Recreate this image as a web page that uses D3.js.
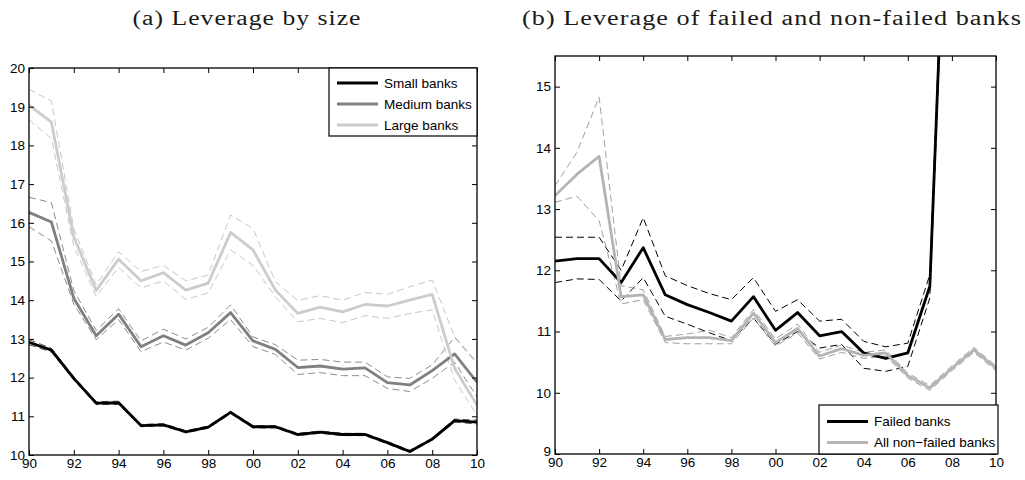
<!DOCTYPE html>
<html>
<head>
<meta charset="utf-8">
<script src="https://cdn.jsdelivr.net/npm/d3@7"></script>
<style>
  html, body { margin: 0; padding: 0; background: #fff; }
  svg { display: block; }
  .tick text { font-family: "Liberation Sans", Arial, sans-serif; font-size: 13.5px; fill: #000; }
  .title { font-family: "Liberation Serif", "Times New Roman", serif; font-size: 20px; font-weight: normal; letter-spacing: 0.8px; fill: #1a1a1a; }
  .legend text { font-family: "Liberation Sans", Arial, sans-serif; font-size: 13.5px; fill: #000; }
</style>
</head>
<body>
<svg id="chart" width="1025" height="480"></svg>
<script>
// Years on the x axis (1990–2010), labelled with two digits
const years = d3.range(1990, 2011);
const xTickYears = [1990, 1992, 1994, 1996, 1998, 2000, 2002, 2004, 2006, 2008, 2010];

// Panel (a): leverage by size, mean with dashed confidence bands
const smallBanks      = [12.91,12.71,11.98,11.34,11.35,10.76,10.78,10.60,10.72,11.10,10.73,10.73,10.53,10.59,10.53,10.53,10.32,10.09,10.41,10.89,10.85];
const smallBanksUpper = [12.98,12.76,12.02,11.38,11.39,10.79,10.81,10.63,10.75,11.13,10.76,10.76,10.56,10.62,10.56,10.56,10.35,10.12,10.44,10.93,10.90];
const smallBanksLower = [12.85,12.66,11.94,11.30,11.31,10.73,10.75,10.57,10.69,11.07,10.70,10.70,10.50,10.56,10.50,10.50,10.29,10.06,10.38,10.85,10.80];

const mediumBanks      = [16.27,16.02,14.05,13.08,13.64,12.80,13.08,12.84,13.16,13.68,12.95,12.73,12.26,12.30,12.22,12.25,11.87,11.81,12.18,12.61,11.88];
const mediumBanksUpper = [16.66,16.52,14.25,13.22,13.78,12.95,13.25,13.00,13.30,13.88,13.05,12.85,12.45,12.47,12.40,12.40,12.02,11.98,12.33,13.04,12.37];
const mediumBanksLower = [15.90,15.53,13.90,12.98,13.50,12.67,12.92,12.71,13.02,13.50,12.80,12.60,12.08,12.13,12.05,12.05,11.72,11.64,11.98,12.40,11.50];

const largeBanks      = [19.04,18.60,15.64,14.25,15.06,14.50,14.71,14.26,14.44,15.75,15.30,14.26,13.66,13.82,13.70,13.89,13.85,14.00,14.15,12.24,11.29];
const largeBanksUpper = [19.45,19.15,15.85,14.40,15.25,14.74,14.90,14.50,14.65,16.20,15.85,14.48,13.99,14.12,14.00,14.20,14.15,14.35,14.52,13.06,12.40];
const largeBanksLower = [18.66,18.18,15.40,14.10,14.85,14.32,14.50,14.02,14.19,15.30,14.90,14.09,13.44,13.53,13.42,13.60,13.53,13.66,13.75,11.94,11.03];

const yTicksA = [10,11,12,13,14,15,16,17,18,19,20];

// Panel (b): failed banks (1990–2008) and all non-failed banks (1990–2010)
const failedYears = d3.range(1990, 2009);
const failedBanks      = [12.15,12.19,12.19,11.80,12.37,11.60,11.44,11.31,11.17,11.57,11.02,11.31,10.93,11.00,10.65,10.56,10.65,11.74,21.00];
const failedBanksUpper = [12.54,12.54,12.54,12.00,12.86,11.91,11.75,11.62,11.52,11.88,11.33,11.52,11.17,11.20,10.84,10.75,10.81,11.93,21.30];
const failedBanksLower = [11.80,11.86,11.85,11.50,11.88,11.25,11.12,10.98,10.85,11.22,10.79,11.00,10.73,10.79,10.40,10.35,10.43,11.55,20.70];

const nonFailedBanks      = [13.22,13.57,13.86,11.57,11.60,10.87,10.90,10.90,10.85,11.30,10.82,11.05,10.60,10.72,10.61,10.65,10.28,10.08,10.40,10.70,10.40];
const nonFailedBanksUpper = [13.38,13.93,14.83,11.75,11.68,10.92,10.96,11.02,10.90,11.36,10.88,11.12,10.66,10.78,10.66,10.70,10.32,10.12,10.44,10.74,10.44];
const nonFailedBanksLower = [13.11,13.21,12.81,11.45,11.52,10.82,10.80,10.80,10.80,11.22,10.76,10.98,10.55,10.66,10.56,10.60,10.24,10.04,10.36,10.66,10.36];

const yTicksB = [9,10,11,12,13,14,15];

const svg = d3.select("#chart");

function drawPanel(cfg) {
  const x = d3.scaleLinear().domain([1990, 2010]).range([cfg.left, cfg.right]);
  const y = d3.scaleLinear().domain(cfg.yDomain).range([cfg.bottom, cfg.top]);
  const g = svg.append("g");

  const clipId = cfg.id + "-clip";
  svg.append("defs").append("clipPath").attr("id", clipId)
    .append("rect")
    .attr("x", cfg.left).attr("y", cfg.top)
    .attr("width", cfg.right - cfg.left).attr("height", cfg.bottom - cfg.top);

  const plot = g.append("g").attr("clip-path", `url(#${clipId})`);

  // dashed confidence bands first, solid means on top
  cfg.series.forEach(s => {
    const line = d3.line().x((d, i) => x(s.years[i])).y(d => y(d));
    [s.upper, s.lower].forEach(band => {
      plot.append("path").datum(band)
        .attr("d", line)
        .attr("fill", "none")
        .attr("stroke", s.bandColor)
        .attr("stroke-width", 1)
        .attr("stroke-dasharray", "7,4");
    });
  });
  cfg.series.forEach(s => {
    const line = d3.line().x((d, i) => x(s.years[i])).y(d => y(d));
    plot.append("path").datum(s.values)
      .attr("d", line)
      .attr("fill", "none")
      .attr("stroke", s.color)
      .attr("stroke-width", 2.8)
      .attr("stroke-linejoin", "round");
  });

  // axes: ticks point inward on all four sides
  const fmtYear = d => String(d % 100).padStart(2, "0");
  g.append("g").attr("transform", `translate(0,${cfg.bottom})`)
    .call(d3.axisBottom(x).tickValues(xTickYears).tickFormat(fmtYear).tickSize(-5).tickPadding(3))
    .call(a => a.select(".domain").remove());
  g.append("g").attr("transform", `translate(0,${cfg.top})`)
    .call(d3.axisTop(x).tickValues(xTickYears).tickFormat("").tickSize(-5))
    .call(a => a.select(".domain").remove());
  g.append("g").attr("transform", `translate(${cfg.left},0)`)
    .call(d3.axisLeft(y).tickValues(cfg.yTicks).tickFormat(d3.format("d")).tickSize(-5).tickPadding(4))
    .call(a => a.select(".domain").remove())
    // the lowest label sits a little higher so it clears the year labels
    .call(a => a.selectAll(".tick text").filter(d => d === cfg.yDomain[0] && cfg.liftLowest)
      .attr("dy", "0.1em"));
  g.append("g").attr("transform", `translate(${cfg.right},0)`)
    .call(d3.axisRight(y).tickValues(cfg.yTicks).tickFormat("").tickSize(-5))
    .call(a => a.select(".domain").remove());
  g.selectAll(".tick line").attr("stroke", "#000");

  g.append("rect")
    .attr("x", cfg.left).attr("y", cfg.top)
    .attr("width", cfg.right - cfg.left).attr("height", cfg.bottom - cfg.top)
    .attr("fill", "none").attr("stroke", "#000").attr("stroke-width", 1.3);

  // title above the panel
  svg.append("text").attr("class", "title")
    .attr("x", cfg.titleX).attr("y", 25)
    .attr("text-anchor", "middle")
    .attr("textLength", cfg.titleWidth).attr("lengthAdjust", "spacingAndGlyphs")
    .text(cfg.title);

  // legend box
  const lg = svg.append("g").attr("class", "legend");
  lg.append("rect")
    .attr("x", cfg.legend.x).attr("y", cfg.legend.y)
    .attr("width", cfg.legend.w).attr("height", cfg.legend.h)
    .attr("fill", "#fff").attr("stroke", "#000").attr("stroke-width", 1.2);
  cfg.series.forEach((s, i) => {
    const cy = cfg.legend.y + cfg.legend.firstRow + i * cfg.legend.rowGap;
    lg.append("line")
      .attr("x1", cfg.legend.x + 8).attr("x2", cfg.legend.x + 49)
      .attr("y1", cy).attr("y2", cy)
      .attr("stroke", s.color).attr("stroke-width", 2.8);
    lg.append("text")
      .attr("x", cfg.legend.x + 55).attr("y", cy)
      .attr("dy", "0.36em")
      .text(s.name);
  });
}

drawPanel({
  id: "size",
  left: 29, right: 477, top: 68, bottom: 455,
  yDomain: [10, 20], yTicks: yTicksA, liftLowest: false,
  title: "(a) Leverage by size", titleX: 247, titleWidth: 229,
  legend: { x: 329, y: 68, w: 148, h: 68, firstRow: 15, rowGap: 21 },
  series: [
    { name: "Small banks",  years: years, values: smallBanks,  upper: smallBanksUpper,  lower: smallBanksLower,  color: "#000000", bandColor: "#555555" },
    { name: "Medium banks", years: years, values: mediumBanks, upper: mediumBanksUpper, lower: mediumBanksLower, color: "#808080", bandColor: "#8c8c8c" },
    { name: "Large banks",  years: years, values: largeBanks,  upper: largeBanksUpper,  lower: largeBanksLower,  color: "#cccccc", bandColor: "#c8c8c8" }
  ]
});

drawPanel({
  id: "failed",
  left: 555, right: 996, top: 56, bottom: 454,
  yDomain: [9, 15.5], yTicks: yTicksB, liftLowest: true,
  title: "(b) Leverage of failed and non-failed banks", titleX: 772, titleWidth: 500,
  legend: { x: 819, y: 405, w: 179, h: 49, firstRow: 16.5, rowGap: 21 },
  series: [
    { name: "Failed banks",          years: failedYears, values: failedBanks,    upper: failedBanksUpper,    lower: failedBanksLower,    color: "#000000", bandColor: "#000000" },
    { name: "All non\u2212failed banks", years: years,   values: nonFailedBanks, upper: nonFailedBanksUpper, lower: nonFailedBanksLower, color: "#b4b4b4", bandColor: "#a0a0a0" }
  ]
});
</script>
</body>
</html>
